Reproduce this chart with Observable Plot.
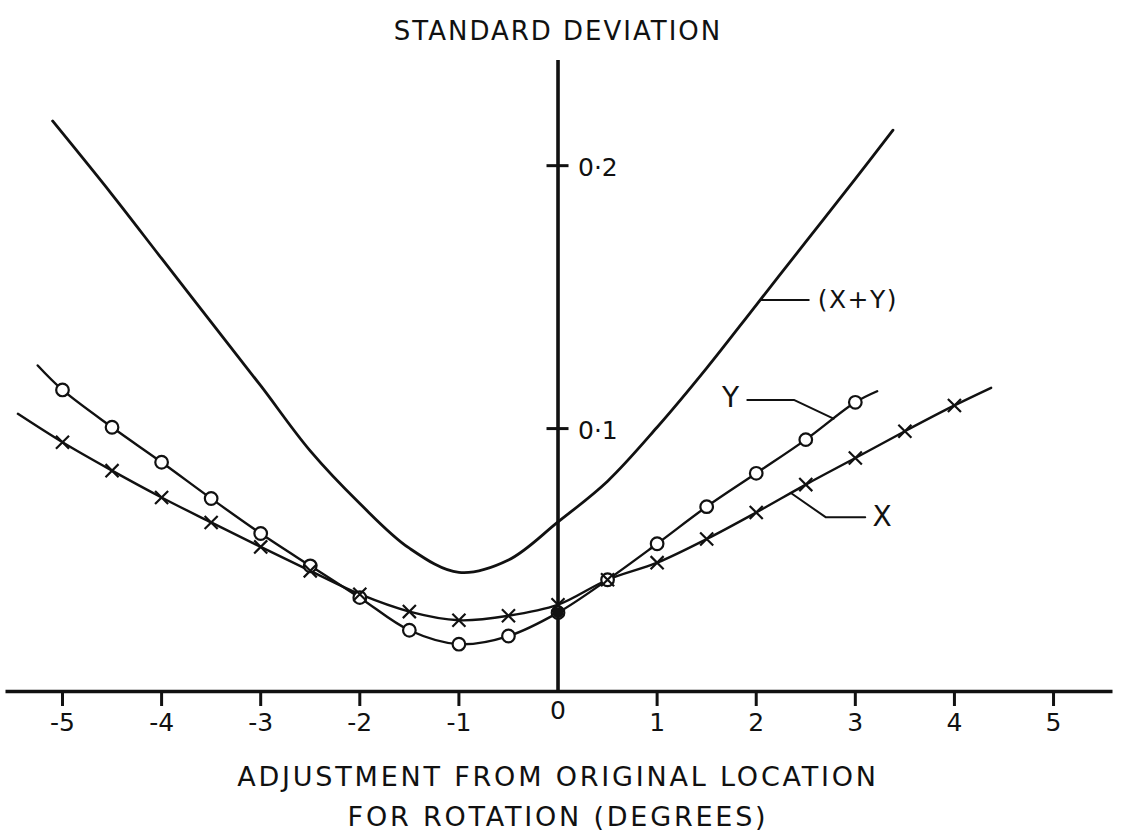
<!DOCTYPE html>
<html>
<head>
<meta charset="utf-8">
<script src="https://cdn.jsdelivr.net/npm/d3@7"></script>
<script src="https://cdn.jsdelivr.net/npm/@observablehq/plot@0.6"></script>
<style>
  body { margin: 0; background: #fff; }
</style>
</head>
<body>
<div id="chart"></div>
<script>
// Standard deviation against the angular adjustment (degrees) for rotation.

// Y component: readings at half-degree steps (circles)
const yAngles = [-5, -4.5, -4, -3.5, -3, -2.5, -2, -1.5, -1, -0.5, 0, 0.5, 1, 1.5, 2, 2.5, 3];
const ySigma  = [0.1147, 0.1005, 0.0872, 0.0734, 0.0601, 0.0478, 0.0357, 0.0233, 0.0180, 0.0211, 0.0300, 0.0425, 0.0562, 0.0703, 0.0830, 0.0958, 0.1100];
const yCurveEnds = [[-5.25, 0.124], [3.22, 0.1142]];

// X component: readings at half-degree steps (crosses)
const xAngles = [-5, -4.5, -4, -3.5, -3, -2.5, -2, -1.5, -1, -0.5, 0, 0.5, 1, 1.5, 2, 2.5, 3, 3.5, 4];
const xSigma  = [0.0948, 0.0840, 0.0738, 0.0643, 0.0550, 0.0459, 0.0370, 0.0304, 0.0271, 0.0288, 0.0330, 0.0425, 0.0490, 0.0580, 0.0681, 0.0787, 0.0888, 0.0990, 0.1088];
const xCurveEnds = [[-5.45, 0.1056], [4.37, 0.1155]];

// Combined (X+Y) curve
const sumAngles = [-5.1, -4.5, -4, -3.5, -3, -2.5, -2, -1.5, -1, -0.5, 0, 0.5, 1, 1.5, 2, 2.5, 3, 3.38];
const sumSigma  = [0.217, 0.189, 0.1647, 0.1405, 0.1163, 0.0915, 0.0715, 0.0545, 0.0453, 0.0500, 0.0645, 0.080, 0.1005, 0.123, 0.147, 0.171, 0.195, 0.2135];

// Axis ticks
const angleTicks = [-5, -4, -3, -2, -1, 1, 2, 3, 4, 5];
const sigmaTicks = [0.1, 0.2];

// Text
const yTitle = "STANDARD DEVIATION";
const xTitle = ["ADJUSTMENT FROM ORIGINAL LOCATION", "FOR ROTATION (DEGREES)"];

const rows = (angles, sigma) => angles.map((angle, i) => ({angle, sigma: sigma[i]}));
const ends = (pairs) => pairs.map(([angle, sigma]) => ({angle, sigma}));

const yPoints = rows(yAngles, ySigma);
const xPoints = rows(xAngles, xSigma);
const sumPoints = rows(sumAngles, sumSigma);
const yLine = [ends(yCurveEnds)[0], ...yPoints, ends(yCurveEnds)[1]];
const xLine = [ends(xCurveEnds)[0], ...xPoints, ends(xCurveEnds)[1]];

// value of a series at a given angle (linear between readings)
function sigmaAt(series, a) {
  for (let i = 0; i < series.length - 1; i++) {
    const p = series[i], q = series[i + 1];
    if (a >= p.angle && a <= q.angle) {
      return p.sigma + (q.sigma - p.sigma) * (a - p.angle) / (q.angle - p.angle);
    }
  }
  return series[series.length - 1].sigma;
}

// Callouts: leader from a point on a curve to its label
const sumAnchor = 2.04, sumLevel = sigmaAt(sumPoints, sumAnchor);
const yAnchor = 2.78, xAnchor = 2.35;
const leaders = [
  {name: "sum", pts: [[sumAnchor, sumLevel], [2.53, sumLevel]]},
  {name: "y", pts: [[yAnchor, sigmaAt(yLine, yAnchor)], [2.38, 0.1109], [1.91, 0.1109]]},
  {name: "x", pts: [[xAnchor, sigmaAt(xLine, xAnchor)], [2.70, 0.0663], [3.10, 0.0663]]}
].flatMap(({name, pts}) => pts.map(([angle, sigma]) => ({name, angle, sigma})));
const sumCallout = [{text: "(X+Y)", angle: 2.62, sigma: sumLevel}];
const letterCallouts = [
  {text: "Y", angle: 1.74, sigma: 0.1118},
  {text: "X", angle: 3.27, sigma: 0.0662}
];

const ink = "#111";

const chart = Plot.plot({
  width: 1121,
  height: 838,
  marginLeft: 5.5,
  marginRight: 8.5,
  marginTop: 60,
  marginBottom: 147,
  style: {fontFamily: "DejaVu Sans, sans-serif", background: "#fff", color: ink},
  x: {domain: [-5.57, 5.6]},
  y: {domain: [0, 0.24], axis: null},
  marks: [
    // axes
    Plot.ruleY([0], {stroke: ink, strokeWidth: 3.6}),
    Plot.ruleX([0], {y1: 0, y2: 0.24, stroke: ink, strokeWidth: 3.6}),
    Plot.ruleY(sigmaTicks, {x1: 0, x2: 0, insetLeft: -11, insetRight: -11, stroke: ink, strokeWidth: 3}),
    Plot.text(sigmaTicks, {x: 0, y: d => d, text: d => d.toFixed(1).replace(".", "·"), dx: 20, dy: 2,
      textAnchor: "start", fontSize: 25, fill: ink}),
    Plot.axisX(angleTicks, {tickSize: 15, tickPadding: 7, strokeWidth: 3, fontSize: 25, stroke: ink, fill: ink,
      tickFormat: d => (d < 0 ? "-" : "") + Math.abs(d), label: null}),
    Plot.text(["0"], {x: 0, frameAnchor: "bottom", dy: 27, fontSize: 25, fill: ink}),

    // curves
    Plot.line(sumPoints, {x: "angle", y: "sigma", curve: "catmull-rom", stroke: ink, strokeWidth: 2.8}),
    Plot.line(yLine, {x: "angle", y: "sigma", curve: "catmull-rom", stroke: ink, strokeWidth: 2.4}),
    Plot.line(xLine, {x: "angle", y: "sigma", curve: "catmull-rom", stroke: ink, strokeWidth: 2.4}),

    // readings
    Plot.dot(yPoints, {x: "angle", y: "sigma", r: 6.3, stroke: ink, fill: "#fff", strokeWidth: 2.2}),
    Plot.dot(xPoints, {x: "angle", y: "sigma", symbol: "times", r: 6, stroke: ink, strokeWidth: 2.2}),
    Plot.dot(yPoints.filter(d => d.angle === 0), {x: "angle", y: "sigma", r: 5.5, fill: ink}),

    // callouts
    Plot.line(leaders, {x: "angle", y: "sigma", z: "name", stroke: ink, strokeWidth: 2}),
    Plot.text(sumCallout, {x: "angle", y: "sigma", text: "text", textAnchor: "start", fontSize: 25, fill: ink, ariaLabel: () => "callout"}),
    Plot.text(letterCallouts, {x: "angle", y: "sigma", text: "text", fontSize: 28, fill: ink}),

    // titles
    Plot.text([yTitle], {x: 0, frameAnchor: "top", dy: -39, fontSize: 26, fill: ink, ariaLabel: () => "y-title"}),
    Plot.text([xTitle[0]], {x: 0, frameAnchor: "bottom", dy: 94, fontSize: 27, fill: ink, ariaLabel: () => "x-title"}),
    Plot.text([xTitle[1]], {x: 0, frameAnchor: "bottom", dy: 134, fontSize: 27, fill: ink, ariaLabel: () => "x-title"})
  ]
});

// hand-lettered look: wider letter spacing on the titles
const svg = d3.select(chart);
svg.selectAll('text[aria-label="y-title"]').attr("letter-spacing", 2.0);
svg.selectAll('text[aria-label="x-title"]').attr("letter-spacing", 2.8);
svg.selectAll('text[aria-label="callout"]').attr("letter-spacing", 1.5);

document.getElementById("chart").append(chart);
</script>
</body>
</html>
